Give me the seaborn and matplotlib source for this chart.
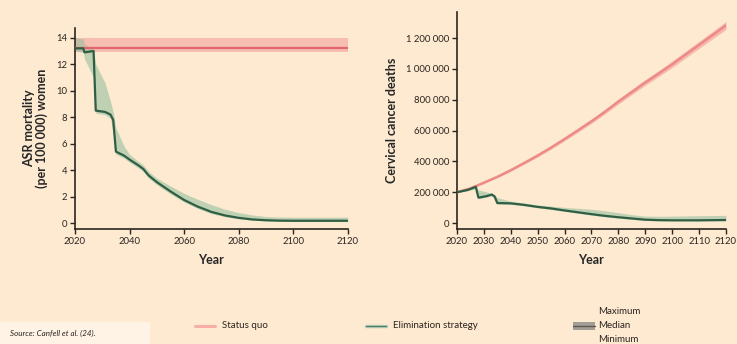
import numpy as np
import pandas as pd
import matplotlib
matplotlib.use("Agg")
import matplotlib.pyplot as plt
from matplotlib.lines import Line2D
from matplotlib.patches import Rectangle
from matplotlib.ticker import FuncFormatter
import seaborn as sns

# ---- ASR mortality per 100 000 women ----
sq_years = [2020, 2120]
sq_asr_med = [13.2, 13.2]
sq_asr_min = [12.95, 12.95]
sq_asr_max = [13.95, 13.95]

el_years = [2020, 2023, 2023.5, 2026.8, 2027.6, 2031, 2033, 2034, 2035, 2038, 2040, 2043,
            2045, 2047, 2050, 2055, 2060, 2065, 2070, 2075, 2080, 2085, 2090, 2095, 2100, 2110, 2120]
el_asr_med = [13.2, 13.2, 12.9, 13.0, 8.5, 8.4, 8.2, 7.8, 5.4, 5.1, 4.8, 4.4,
              4.1, 3.6, 3.1, 2.4, 1.75, 1.25, 0.85, 0.58, 0.4, 0.28, 0.22, 0.19, 0.18, 0.18, 0.18]
el_asr_min = [13.0, 12.9, 12.4, 11.0, 8.3, 8.2, 7.9, 6.8, 5.2, 4.9, 4.6, 4.2,
              3.9, 3.4, 2.9, 2.2, 1.6, 1.1, 0.72, 0.48, 0.33, 0.22, 0.16, 0.13, 0.12, 0.12, 0.12]
el_asr_max = [14.0, 13.9, 13.5, 13.1, 12.0, 10.6, 9.2, 8.4, 7.2, 5.8, 5.2, 4.7,
              4.4, 3.9, 3.4, 2.8, 2.25, 1.8, 1.4, 1.05, 0.8, 0.62, 0.5, 0.46, 0.45, 0.45, 0.45]

# ---- Cervical cancer deaths ----
sq_d_years = [2020, 2025, 2030, 2035, 2040, 2045, 2050, 2055, 2060, 2065, 2070, 2075,
              2080, 2085, 2090, 2095, 2100, 2105, 2110, 2115, 2120]
sq_d_med = [200000, 225000, 262000, 300000, 343000, 390000, 438000, 490000, 545000,
            602000, 660000, 722000, 788000, 850000, 912000, 970000, 1030000, 1093000,
            1156000, 1219000, 1282000]
sq_d_min = [196000, 221000, 257000, 294000, 336000, 382000, 429000, 480000, 534000,
            590000, 647000, 708000, 772000, 833000, 894000, 951000, 1009000, 1071000,
            1133000, 1195000, 1256000]
sq_d_max = [204000, 229000, 267000, 306000, 350000, 398000, 447000, 500000, 556000,
            614000, 673000, 736000, 804000, 867000, 930000, 989000, 1051000, 1115000,
            1179000, 1243000, 1308000]

el_d_years = [2020, 2024, 2027, 2028, 2031, 2033, 2034, 2035, 2040, 2045, 2050, 2055, 2060,
              2065, 2070, 2075, 2080, 2085, 2090, 2095, 2100, 2110, 2120]
el_d_med = [200000, 215000, 235000, 165000, 175000, 185000, 172000, 130000, 128000, 118000,
            105000, 95000, 82000, 70000, 58000, 47000, 38000, 30000, 22000, 19000, 18000,
            18000, 20000]
el_d_min = [197000, 210000, 222000, 158000, 168000, 178000, 165000, 124000, 122000, 112000,
            99000, 88000, 76000, 64000, 52000, 41000, 32000, 24000, 17000, 15000, 14000,
            14000, 15000]
el_d_max = [205000, 222000, 242000, 215000, 202000, 192000, 185000, 165000, 142000, 130000,
            118000, 110000, 102000, 96000, 90000, 80000, 68000, 55000, 45000, 44000, 45000,
            48000, 50000]

BG = "#FDEAD0"
RED = "#E2646C"
RED_SOFT = "#EE8A86"
PINK = "#F6AEA6"
GREEN = "#2F5E44"
LGREEN = "#8FBE9C"
INK = "#2B2420"

sns.set_theme(style="ticks")
plt.rcParams["font.family"] = ["Lato", "DejaVu Sans"]
plt.rcParams["axes.edgecolor"] = INK
plt.rcParams["xtick.color"] = INK
plt.rcParams["ytick.color"] = INK
plt.rcParams["text.color"] = INK

fig = plt.figure(figsize=(7.37, 3.44), dpi=100, facecolor=BG)
ax1 = fig.add_axes([0.1018, 0.334, 0.370, 0.585])
ax2 = fig.add_axes([0.620, 0.334, 0.365, 0.631])


def draw_series(ax, x, med, lo, hi, line_color, band_color, band_alpha, lw=1.6):
    ax.fill_between(x, lo, hi, color=band_color, alpha=band_alpha, lw=0, zorder=1)
    df = pd.DataFrame({"year": x, "value": med})
    sns.lineplot(data=df, x="year", y="value", ax=ax, color=line_color, lw=lw,
                 estimator=None, sort=False, zorder=3)


draw_series(ax1, sq_years, sq_asr_med, sq_asr_min, sq_asr_max, RED, PINK, 0.75)
draw_series(ax1, el_years, el_asr_med, el_asr_min, el_asr_max, GREEN, LGREEN, 0.55)
draw_series(ax2, sq_d_years, sq_d_med, sq_d_min, sq_d_max, RED_SOFT, PINK, 0.8, lw=1.8)
draw_series(ax2, el_d_years, el_d_med, el_d_min, el_d_max, GREEN, LGREEN, 0.55)

for ax in (ax1, ax2):
    ax.set_facecolor(BG)
    ax.set_xlim(2020, 2120)
    sns.despine(ax=ax)
    for s in ("left", "bottom"):
        ax.spines[s].set_linewidth(1.2)
    ax.tick_params(axis="both", labelsize=6.8, length=3.5, width=1.0, pad=2)
    ax.set_xlabel("Year", fontsize=9, fontweight="bold", labelpad=6)

ax1.set_ylim(-0.45, 14.75)
ax1.set_yticks(range(0, 15, 2))
ax1.set_xticks(range(2020, 2121, 20))
ax1.set_ylabel("ASR mortality\n(per 100 000) women", fontsize=9, fontweight="bold",
               linespacing=1.0, labelpad=6)

ax2.set_ylim(-39000, 1369000)
ax2.set_yticks(range(0, 1200001, 200000))
ax2.set_xticks(range(2020, 2121, 10))
ax2.yaxis.set_major_formatter(FuncFormatter(lambda v, p: f"{int(v):,}".replace(",", " ")))
ax2.set_ylabel("Cervical cancer deaths", fontsize=9, fontweight="bold", labelpad=6)

# source box
fig.add_artist(Rectangle((0, 0), 150 / 737, 22 / 344, transform=fig.transFigure,
                         facecolor="#FEF3E4", edgecolor="none", zorder=0))
fig.text(10 / 737, 11 / 344, "Source: Canfell et al. (24).", fontsize=5.8,
         style="italic", va="center", ha="left")

# legend
ly = 1 - 326 / 344
fig.add_artist(Line2D([195 / 737, 215 / 737], [ly, ly], transform=fig.transFigure,
                      color=PINK, lw=2.2))
fig.text(222 / 737, ly, "Status quo", fontsize=7, va="center", ha="left")
fig.add_artist(Line2D([366 / 737, 386 / 737], [ly, ly], transform=fig.transFigure,
                      color="#A9C6B2", lw=2.4))
fig.add_artist(Line2D([366 / 737, 386 / 737], [ly, ly], transform=fig.transFigure,
                      color="#4E7A62", lw=0.7))
fig.text(393 / 737, ly, "Elimination strategy", fontsize=7, va="center", ha="left")
fig.add_artist(Rectangle((573 / 737, ly - 4 / 344), 22 / 737, 8 / 344,
                         transform=fig.transFigure, facecolor="#A39D98",
                         edgecolor="none"))
fig.add_artist(Line2D([573 / 737, 595 / 737], [ly, ly], transform=fig.transFigure,
                      color="#5E5752", lw=1.0))
fig.text(598 / 737, 1 - 312 / 344, "Maximum", fontsize=7, va="center", ha="left")
fig.text(598 / 737, ly, "Median", fontsize=7, va="center", ha="left")
fig.text(598 / 737, 1 - 339 / 344, "Minimum", fontsize=7, va="center", ha="left")

fig.savefig("out.png", dpi=100, facecolor=BG)
